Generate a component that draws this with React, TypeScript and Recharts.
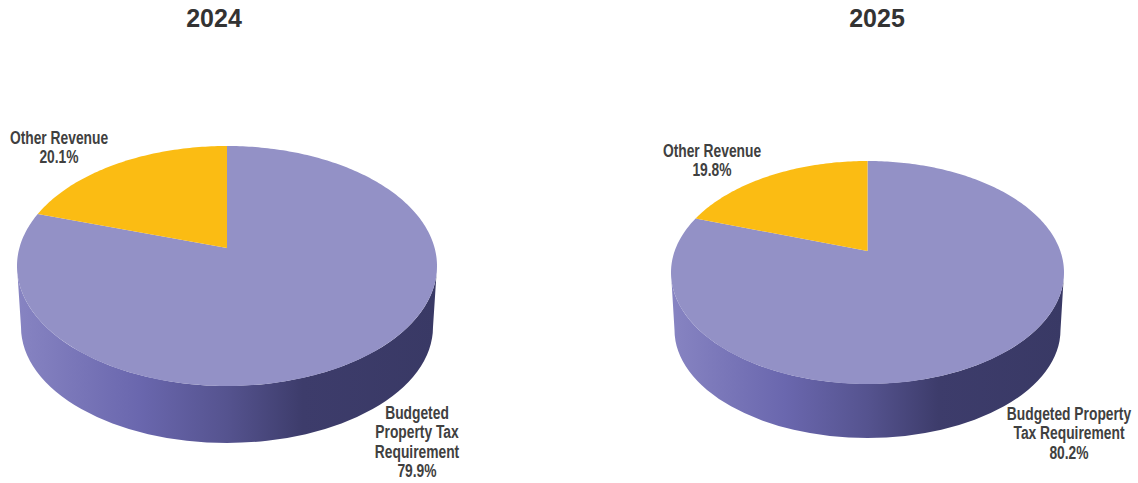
import { PieChart, Pie } from 'recharts';

const categories = ['Budgeted Property Tax Requirement', 'Other Revenue'];
const values2024 = [79.9, 20.1];
const values2025 = [80.2, 19.8];
const titles = ['2024', '2025'];

const colors = ['#9391c6', '#fbbc13'];

const toRows = (values: number[]) => values.map((value, i) => ({ name: categories[i], value, fill: colors[i] }));

// pie geometry, the top face is a flat disc seen in perspective
const pie2024 = { cx: 227, cy: 266, rx: 210, ry: 120, lift: 18, bottomRx: 206, bottomRy: 116, bottomCy: 327 };
const pie2025 = { cx: 867.5, cy: 272.5, rx: 196.5, ry: 111.5, lift: 21.5, bottomRx: 193, bottomRy: 108, bottomCy: 330 };

type Geo = typeof pie2024;

const RAD = Math.PI / 180;

// maps an angle of the round pie on to the tilted ellipse, the centre moves up by geo.lift
function project(geo: Geo, deg: number) {
  const u = Math.cos(deg * RAD);
  const v = Math.sin(deg * RAD);
  const k = geo.lift / geo.ry;
  const d = 1 + k * v;
  return {
    x: geo.cx + (u * geo.rx * Math.sqrt(1 - k * k)) / d,
    y: geo.cy - (geo.ry * v + geo.lift) / d,
  };
}

function sectorPath(geo: Geo, start: number, end: number) {
  const steps = Math.max(2, Math.ceil(Math.abs(end - start)));
  let d = `M${geo.cx},${geo.cy - geo.lift}`;
  for (let i = 0; i <= steps; i++) {
    const p = project(geo, start + ((end - start) * i) / steps);
    d += `L${p.x.toFixed(2)},${p.y.toFixed(2)}`;
  }
  return d + 'Z';
}

function wallPath(geo: Geo) {
  const { cx, cy, rx, ry, bottomRx, bottomRy, bottomCy } = geo;
  return (
    `M${cx - rx},${cy}A${rx},${ry} 0 0 0 ${cx + rx},${cy}` +
    `L${cx + bottomRx},${bottomCy}A${bottomRx},${bottomRy} 0 0 1 ${cx - bottomRx},${bottomCy}Z`
  );
}

const makeShape = (geo: Geo) => (props: any) => {
  const { startAngle, endAngle, fill } = props;
  const id = `wall-${Math.round(geo.cx)}`;
  const hasWall = Math.min(startAngle, endAngle) <= -90 && Math.max(startAngle, endAngle) >= -90;
  return (
    <g>
      {hasWall && (
        <>
          <defs>
            <linearGradient id={id} x1="0" y1="0" x2="1" y2="0">
              <stop offset="0%" stopColor="#8784c2" />
              <stop offset="29%" stopColor="#6a67ae" />
              <stop offset="50%" stopColor="#55538f" />
              <stop offset="68%" stopColor="#3d3c6b" />
              <stop offset="100%" stopColor="#393965" />
            </linearGradient>
          </defs>
          <path d={wallPath(geo)} fill={`url(#${id})`} />
        </>
      )}
      <path d={sectorPath(geo, startAngle, endAngle)} fill={fill} />
    </g>
  );
};

// the reference uses a condensed bold face, squeeze Liberation Sans to the same width
function Caption({ x, y, lines }: { x: number; y: number; lines: string[] }) {
  return (
    <text
      transform={`translate(${x},${y}) scale(0.79,1)`}
      textAnchor="middle"
      fontFamily="'Liberation Sans', Arial, sans-serif"
      fontWeight="bold"
      fontSize={17.5}
      fill="#404040"
    >
      {lines.map((line, i) => (
        <tspan key={line} x={0} dy={i === 0 ? 0 : 19.5}>
          {line}
        </tspan>
      ))}
    </text>
  );
}

function Title({ x, text }: { x: number; text: string }) {
  return (
    <text x={x} y={27} textAnchor="middle" fontFamily="'Liberation Sans', Arial, sans-serif" fontWeight="bold" fontSize={25} fill="#333333">
      {text}
    </text>
  );
}

export default function App() {
  return (
    <div style={{ position: 'absolute', left: 0, top: 0 }}>
      <PieChart width={1138} height={483} margin={{ top: 0, right: 0, bottom: 0, left: 0 }}>
        <Pie
          data={toRows(values2024)}
          dataKey="value"
          nameKey="name"
          cx={pie2024.cx}
          cy={pie2024.cy}
          outerRadius={pie2024.rx}
          startAngle={90}
          endAngle={-270}
          stroke="none"
          shape={makeShape(pie2024)}
          isAnimationActive={false}
        />
        <Pie
          data={toRows(values2025)}
          dataKey="value"
          nameKey="name"
          cx={pie2025.cx}
          cy={pie2025.cy}
          outerRadius={pie2025.rx}
          startAngle={90}
          endAngle={-270}
          stroke="none"
          shape={makeShape(pie2025)}
          isAnimationActive={false}
        />
        <Title x={214} text={titles[0]} />
        <Title x={877} text={titles[1]} />
        <Caption x={59} y={144} lines={['Other Revenue', `${values2024[1]}%`]} />
        <Caption x={417} y={419} lines={['Budgeted', 'Property Tax', 'Requirement', `${values2024[0]}%`]} />
        <Caption x={712} y={157} lines={['Other Revenue', `${values2025[1]}%`]} />
        <Caption x={1069} y={420} lines={['Budgeted Property', 'Tax Requirement', `${values2025[0]}%`]} />
      </PieChart>
    </div>
  );
}
